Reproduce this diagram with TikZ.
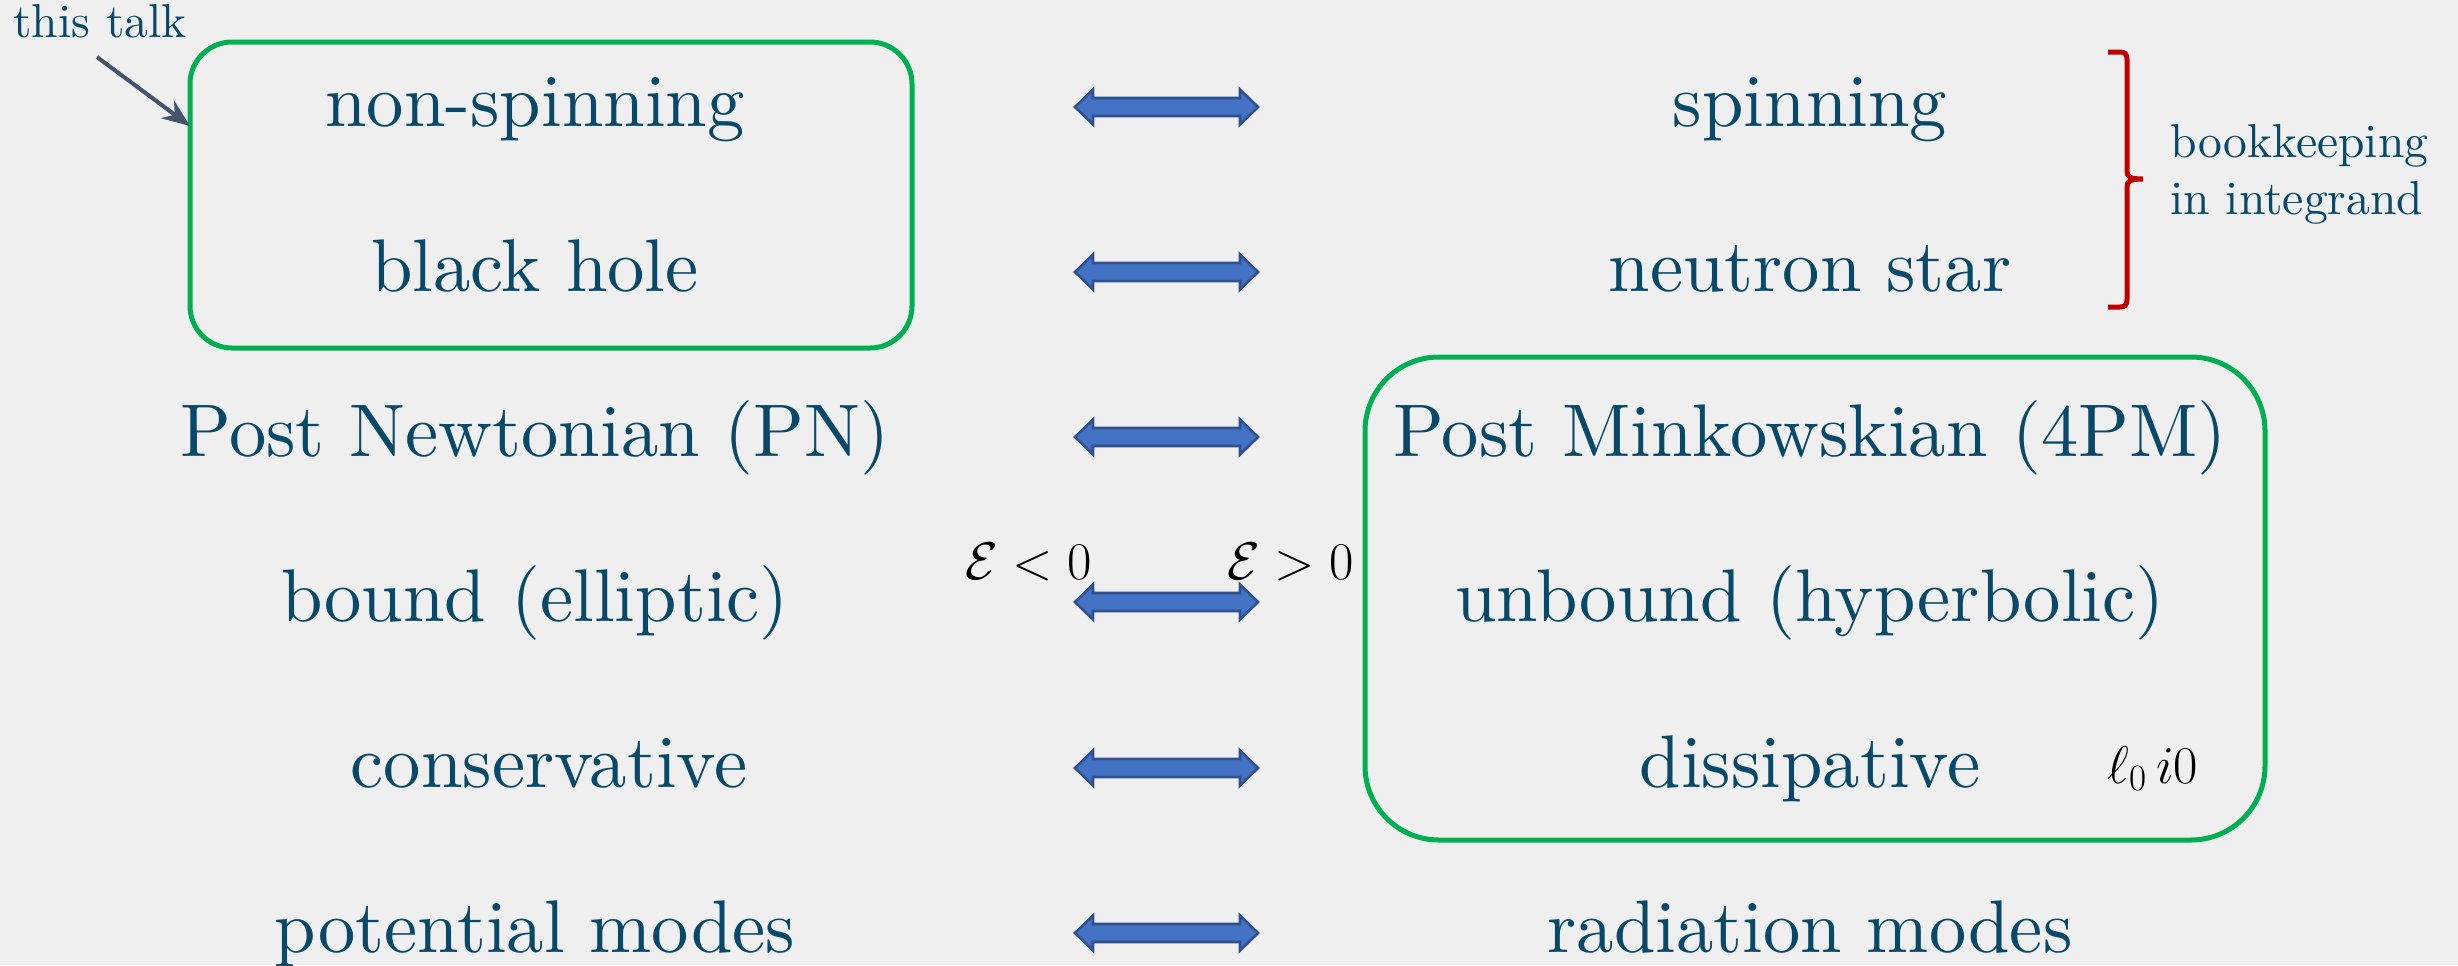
\IfFileExists{fix-cm.sty}{\RequirePackage{fix-cm}}{}
\documentclass[tikz,border=0pt]{standalone}
\usepackage{fontspec}
\setmainfont{lmroman10-regular}[Extension=.otf, ItalicFont=lmroman10-italic, BoldFont=lmroman10-bold]
\usetikzlibrary{arrows.meta}

\definecolor{pagebg}{RGB}{239,239,239}
\definecolor{ink}{RGB}{8,72,104}
\definecolor{boxgreen}{RGB}{0,176,80}
\definecolor{arrfill}{RGB}{68,114,196}
\definecolor{arrline}{RGB}{47,82,143}
\definecolor{pointer}{RGB}{68,84,106}
\definecolor{bracered}{RGB}{192,0,0}

\tikzset{
  item/.style={text=ink, font=\fontsize{37.3}{44}\selectfont, inner sep=0pt, anchor=base},
  note/.style={text=ink, font=\fontsize{23.8}{28}\selectfont, inner sep=0pt, anchor=base west},
  mathlbl/.style={text=black, font=\fontsize{26.5}{31}\selectfont, inner sep=0pt, anchor=base west},
  groupbox/.style={draw=boxgreen, line width=2.5pt},
  twoway/.style={draw=arrline, fill=arrfill, line width=1.3pt, line join=miter},
}

% horizontal double-headed block arrow centred vertically at #1
\newcommand\twowayarrow[1]{%
  \draw[twoway] (1075,#1) -- ++(18,17.5) -- ++(0,-8.5) -- ++(147,0) -- ++(0,8.5)
    -- ++(18,-17.5) -- ++(-18,-17.5) -- ++(0,8.5) -- ++(-147,0) -- ++(0,-8.5) -- cycle;}

\begin{document}
\begin{tikzpicture}[x=0.5pt, y=-0.5pt]
  \fill[pagebg] (0,0) rectangle (2458,965);
  \useasboundingbox (0,0) rectangle (2458,965);

  % grouping frames
  \draw[groupbox, rounded corners=21pt] (190,42) rectangle (912,348);
  \draw[groupbox, rounded corners=37pt] (1365,357) rectangle (2265,840);

  % left column
  \node[item] (ns)   at (535,126) {non-spinning};
  \node[item] (bh)   at (535,291) {black hole};
  \node[item] (pn)   at (535,456) {Post Newtonian (PN)};
  \node[item] (bd)   at (535,621) {bound (elliptic)};
  \node[item] (cons) at (549,787) {conservative};
  \node[item] (pot)  at (535,952) {potential modes};

  % right column
  \node[item] (sp)   at (1810,126) {spinning};
  \node[item] (nst)  at (1810,291) {neutron star};
  \node[item] (pm)   at (1810,456) {Post Minkowskian (4PM)};
  \node[item] (ub)   at (1810,621) {unbound (hyperbolic)};
  \node[item] (dis)  at (1810,787) {dissipative};
  \node[item] (rad)  at (1810,952) {radiation modes};

  % correspondence arrows
  \twowayarrow{107}
  \twowayarrow{272}
  \twowayarrow{437}
  \twowayarrow{602}
  \twowayarrow{768}
  \twowayarrow{933}

  % energy labels
  \node[mathlbl] (eneg) at (965,579) {$\mathcal{E}<0$};
  \node[mathlbl] (epos) at (1227,579) {$\mathcal{E}>0$};
  \node[mathlbl] (lzero) at (2107,783) {$\ell_0\, i0$};

  % pointer
  \node[note] (talk) at (13,37) {this talk};
  \coordinate (talktail) at (97,57);
  \coordinate (talktip) at (190,126);
  \draw[pointer, line width=2pt, -{Stealth[length=14pt,width=11pt]}] (talktail) -- (talktip);

  % brace and its note
  \draw[bracered, line width=2.5pt, line cap=butt]
    (2108,52) -- (2120,52) .. controls (2125,52) and (2127,54) .. (2127,60)
    -- (2127,171) .. controls (2127,177) and (2130,179) .. (2143,179)
    .. controls (2130,179) and (2127,181) .. (2127,187)
    -- (2127,299) .. controls (2127,305) and (2125,307) .. (2120,307) -- (2108,307);
  \node[note] (bk1) at (2170,157) {bookkeeping};
  \node[note] (bk2) at (2170,214) {in integrand};
\end{tikzpicture}
\end{document}
